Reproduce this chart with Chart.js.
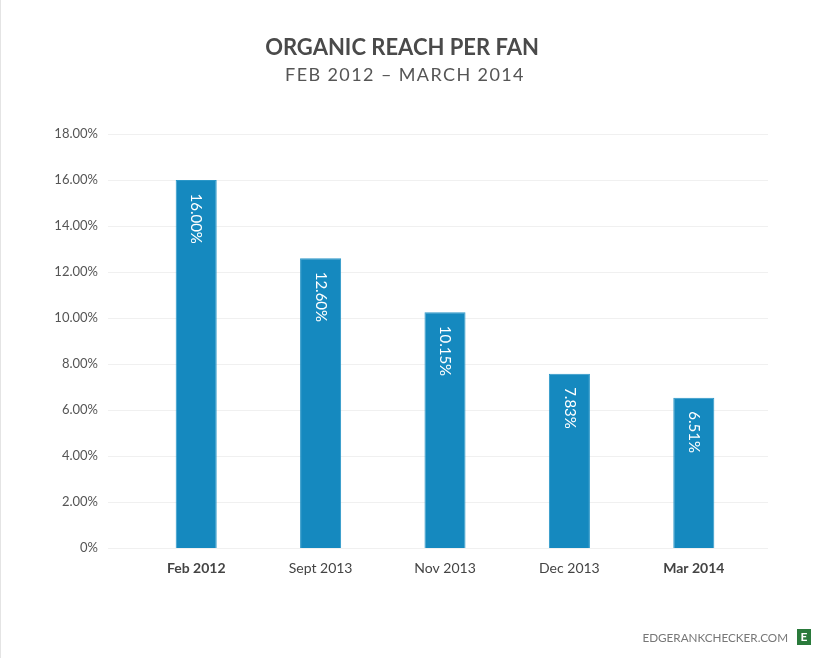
<!DOCTYPE html>
<html>
<head>
<meta charset="utf-8">
<script src="https://cdn.jsdelivr.net/npm/chart.js@4"></script>
<style>
  html, body { margin: 0; padding: 0; background: #fff; }
  #wrap { width: 825px; height: 658px; position: relative; }
</style>
</head>
<body>
<div id="wrap"><canvas id="reach" width="825" height="658"></canvas></div>
<script>
const periods = ['Feb 2012', 'Sept 2013', 'Nov 2013', 'Dec 2013', 'Mar 2014']
// bar heights as drawn in the picture
const reachPerFan = [16.00, 12.60, 10.25, 7.58, 6.53]
// printed labels
const valueLabels = ['16.00%', '12.60%', '10.15%', '7.83%', '6.51%']
const boldPeriods = ['Feb 2012', 'Mar 2014']

// grid lines run a bit wider than the bars area
const gridLines = {
    id: 'gridLines',
    beforeDatasetsDraw(chart) {
        const ctx = chart.ctx
        const y = chart.scales.y
        ctx.save()
        ctx.strokeStyle = '#f0f0f0'
        ctx.lineWidth = 1
        y.ticks.forEach(t => {
            const py = Math.round(y.getPixelForValue(t.value)) + 0.5
            ctx.beginPath()
            ctx.moveTo(108, py)
            ctx.lineTo(768, py)
            ctx.stroke()
        })
        ctx.restore()
    }
}

// white rotated values inside the bars, subtitle, footer
const barText = {
    id: 'barText',
    afterDatasetsDraw(chart) {
        const ctx = chart.ctx
        const meta = chart.getDatasetMeta(0)
        ctx.save()
        ctx.fillStyle = '#ffffff'
        ctx.font = '15px Lato'
        ctx.textAlign = 'left'
        ctx.textBaseline = 'middle'
        meta.data.forEach((bar, i) => {
            ctx.save()
            ctx.translate(bar.x, bar.y + 13.5)
            ctx.rotate(Math.PI / 2)
            ctx.fillText(valueLabels[i], 0, 0)
            ctx.restore()
        })
        ctx.restore()
    },
    afterDraw(chart) {
        const ctx = chart.ctx
        ctx.save()
        // left edge line
        ctx.fillStyle = '#e4e4e4'
        ctx.fillRect(0, 0, 1, 658)
        // subtitle
        ctx.fillStyle = '#555555'
        ctx.font = '18px Lato'
        ctx.letterSpacing = '1.4px'
        ctx.textAlign = 'center'
        ctx.textBaseline = 'middle'
        ctx.fillText('FEB 2012 \u2013 MARCH 2014', 405, 75)
        // footer
        ctx.fillStyle = '#777777'
        ctx.font = '11.7px Lato'
        ctx.letterSpacing = '0px'
        ctx.textAlign = 'right'
        ctx.fillText('EDGERANKCHECKER.COM', 788, 638)
        ctx.fillStyle = '#2a7a3b'
        ctx.fillRect(797, 629, 14, 16)
        ctx.fillStyle = '#ffffff'
        ctx.font = 'bold 12px Lato'
        ctx.textAlign = 'center'
        ctx.fillText('E', 804, 637.5)
        ctx.restore()
    }
}

new Chart(
    document.getElementById('reach'),
    {
        type: 'bar',
        data: {
            labels: periods,
            datasets: [
                {
                    label: 'Organic reach per fan',
                    data: reachPerFan,
                    backgroundColor: '#1589bf',
                    borderColor: '#2b97c8',
                    borderWidth: 1,
                    categoryPercentage: 1,
                    barPercentage: 0.33
                }
            ]
        },
        plugins: [gridLines, barText],
        options: {
            responsive: false,
            animation: false,
            devicePixelRatio: 1,
            layout: {
                padding: { top: 20, left: 48, right: 69, bottom: 70 }
            },
            scales: {
                y: {
                    min: 0,
                    max: 18,
                    ticks: {
                        stepSize: 2,
                        padding: 36,
                        color: '#555555',
                        font: { family: 'Lato', size: 13 },
                        callback: v => v === 0 ? '0%' : v.toFixed(2) + '%'
                    },
                    grid: { display: false, drawTicks: false },
                    border: { display: false },
                    afterFit: s => { s.width = 86 }
                },
                x: {
                    ticks: {
                        padding: 12,
                        color: '#444444',
                        font: ctx => ({
                            family: 'Lato',
                            size: 14,
                            weight: boldPeriods.includes(periods[ctx.index]) ? 'bold' : 'normal'
                        })
                    },
                    grid: { display: false, drawTicks: false },
                    border: { display: false },
                    afterFit: s => { s.height = 40 }
                }
            },
            plugins: {
                legend: { display: false },
                tooltip: { enabled: false },
                title: {
                    display: true,
                    text: 'ORGANIC REACH PER FAN',
                    color: '#4a4a4a',
                    font: { family: 'Lato', size: 22, weight: 'bold', lineHeight: 1.2 },
                    padding: { top: 15, bottom: 72.6 }
                }
            }
        }
    }
)
</script>
</body>
</html>
